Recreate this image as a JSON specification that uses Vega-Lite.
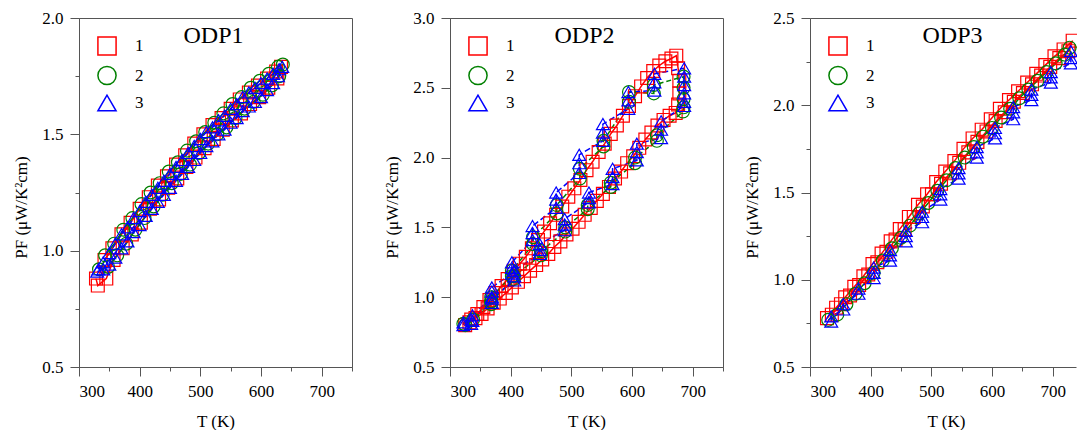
{
"$schema": "https://vega.github.io/schema/vega-lite/v6.json",
"padding": {"left": 12, "top": 8, "right": 0, "bottom": 0},
"spacing": 19,
"config": {
  "font": "Liberation Serif",
  "view": {"stroke": "#555", "strokeWidth": 1},
  "axis": {"grid": false, "labelFont": "Liberation Serif", "labelFontSize": 17, "labelColor": "#000", "titleFont": "Liberation Serif", "titleFontSize": 17, "titleFontWeight": "normal", "titleColor": "#000", "domainColor": "#555", "tickColor": "#555", "labelPadding": 7},
  "legend": {"orient": "top-left", "offset": 18, "padding": 0, "labelFont": "Liberation Serif", "labelFontSize": 17, "labelColor": "#000", "symbolSize": 330, "symbolStrokeWidth": 1.5, "labelOffset": 18, "rowPadding": 3.5}
},
"resolve": {"scale": {"x": "independent", "y": "independent", "color": "independent", "shape": "independent"}, "legend": {"color": "independent", "shape": "independent"}},
"datasets": {
"odp1": [
{"s":"1","T":328,"PF":0.88},{"s":"1","T":331,"PF":0.85},{"s":"1","T":345,"PF":0.88},{"s":"1","T":357,"PF":0.96},{"s":"1","T":372,"PF":1.01},{"s":"1","T":387,"PF":1.07},{"s":"1","T":402,"PF":1.12},{"s":"1","T":417,"PF":1.18},{"s":"1","T":432,"PF":1.22},{"s":"1","T":447,"PF":1.27},{"s":"1","T":462,"PF":1.31},{"s":"1","T":477,"PF":1.36},{"s":"1","T":492,"PF":1.40},{"s":"1","T":507,"PF":1.44},{"s":"1","T":522,"PF":1.48},{"s":"1","T":537,"PF":1.52},{"s":"1","T":552,"PF":1.56},{"s":"1","T":567,"PF":1.59},{"s":"1","T":582,"PF":1.63},{"s":"1","T":597,"PF":1.66},{"s":"1","T":612,"PF":1.70},{"s":"1","T":627,"PF":1.74},{"s":"1","T":633,"PF":1.79},{"s":"1","T":625,"PF":1.77},{"s":"1","T":610,"PF":1.74},{"s":"1","T":595,"PF":1.71},{"s":"1","T":580,"PF":1.68},{"s":"1","T":565,"PF":1.65},{"s":"1","T":550,"PF":1.61},{"s":"1","T":535,"PF":1.57},{"s":"1","T":520,"PF":1.54},{"s":"1","T":505,"PF":1.50},{"s":"1","T":490,"PF":1.46},{"s":"1","T":475,"PF":1.41},{"s":"1","T":460,"PF":1.37},{"s":"1","T":445,"PF":1.32},{"s":"1","T":430,"PF":1.28},{"s":"1","T":415,"PF":1.23},{"s":"1","T":400,"PF":1.18},{"s":"1","T":385,"PF":1.12},{"s":"1","T":370,"PF":1.07},{"s":"1","T":355,"PF":1.01},{"s":"1","T":342,"PF":0.96},
{"s":"2","T":333,"PF":0.92},{"s":"2","T":348,"PF":0.93},{"s":"2","T":363,"PF":0.98},{"s":"2","T":378,"PF":1.03},{"s":"2","T":393,"PF":1.09},{"s":"2","T":408,"PF":1.14},{"s":"2","T":423,"PF":1.19},{"s":"2","T":438,"PF":1.24},{"s":"2","T":453,"PF":1.29},{"s":"2","T":468,"PF":1.33},{"s":"2","T":483,"PF":1.37},{"s":"2","T":498,"PF":1.42},{"s":"2","T":513,"PF":1.46},{"s":"2","T":528,"PF":1.50},{"s":"2","T":543,"PF":1.53},{"s":"2","T":558,"PF":1.57},{"s":"2","T":573,"PF":1.61},{"s":"2","T":588,"PF":1.64},{"s":"2","T":603,"PF":1.67},{"s":"2","T":618,"PF":1.71},{"s":"2","T":630,"PF":1.75},{"s":"2","T":636,"PF":1.80},{"s":"2","T":628,"PF":1.79},{"s":"2","T":613,"PF":1.76},{"s":"2","T":598,"PF":1.73},{"s":"2","T":583,"PF":1.70},{"s":"2","T":568,"PF":1.66},{"s":"2","T":553,"PF":1.63},{"s":"2","T":538,"PF":1.59},{"s":"2","T":523,"PF":1.55},{"s":"2","T":508,"PF":1.51},{"s":"2","T":493,"PF":1.47},{"s":"2","T":478,"PF":1.43},{"s":"2","T":463,"PF":1.38},{"s":"2","T":448,"PF":1.34},{"s":"2","T":433,"PF":1.29},{"s":"2","T":418,"PF":1.25},{"s":"2","T":403,"PF":1.20},{"s":"2","T":388,"PF":1.14},{"s":"2","T":373,"PF":1.09},{"s":"2","T":358,"PF":1.03},{"s":"2","T":343,"PF":0.98},
{"s":"3","T":330,"PF":0.91},{"s":"3","T":340,"PF":0.92},{"s":"3","T":350,"PF":0.94},{"s":"3","T":360,"PF":0.97},{"s":"3","T":370,"PF":1.01},{"s":"3","T":380,"PF":1.04},{"s":"3","T":390,"PF":1.08},{"s":"3","T":400,"PF":1.11},{"s":"3","T":410,"PF":1.15},{"s":"3","T":420,"PF":1.18},{"s":"3","T":430,"PF":1.21},{"s":"3","T":440,"PF":1.24},{"s":"3","T":450,"PF":1.27},{"s":"3","T":460,"PF":1.30},{"s":"3","T":470,"PF":1.33},{"s":"3","T":480,"PF":1.36},{"s":"3","T":490,"PF":1.39},{"s":"3","T":500,"PF":1.42},{"s":"3","T":510,"PF":1.45},{"s":"3","T":520,"PF":1.47},{"s":"3","T":530,"PF":1.50},{"s":"3","T":540,"PF":1.52},{"s":"3","T":550,"PF":1.55},{"s":"3","T":560,"PF":1.57},{"s":"3","T":570,"PF":1.60},{"s":"3","T":580,"PF":1.62},{"s":"3","T":590,"PF":1.64},{"s":"3","T":600,"PF":1.66},{"s":"3","T":610,"PF":1.69},{"s":"3","T":620,"PF":1.72},{"s":"3","T":628,"PF":1.75},{"s":"3","T":635,"PF":1.79},{"s":"3","T":630,"PF":1.78},{"s":"3","T":620,"PF":1.76},{"s":"3","T":610,"PF":1.74},{"s":"3","T":600,"PF":1.72},{"s":"3","T":590,"PF":1.70},{"s":"3","T":580,"PF":1.68},{"s":"3","T":570,"PF":1.66},{"s":"3","T":560,"PF":1.63},{"s":"3","T":550,"PF":1.61},{"s":"3","T":540,"PF":1.58},{"s":"3","T":530,"PF":1.56},{"s":"3","T":520,"PF":1.53},{"s":"3","T":510,"PF":1.51},{"s":"3","T":500,"PF":1.48},{"s":"3","T":490,"PF":1.45},{"s":"3","T":480,"PF":1.42},{"s":"3","T":470,"PF":1.39},{"s":"3","T":460,"PF":1.36},{"s":"3","T":450,"PF":1.33},{"s":"3","T":440,"PF":1.30},{"s":"3","T":430,"PF":1.27},{"s":"3","T":420,"PF":1.24},{"s":"3","T":410,"PF":1.21},{"s":"3","T":400,"PF":1.17},{"s":"3","T":390,"PF":1.14},{"s":"3","T":380,"PF":1.10},{"s":"3","T":370,"PF":1.07},{"s":"3","T":360,"PF":1.03},{"s":"3","T":350,"PF":0.99},{"s":"3","T":340,"PF":0.95},{"s":"3","T":332,"PF":0.92}
],
"odp2": [
{"s":"1","T":325,"PF":0.80},{"s":"1","T":335,"PF":0.84},{"s":"1","T":345,"PF":0.88},{"s":"1","T":355,"PF":0.93},{"s":"1","T":365,"PF":0.98},{"s":"1","T":375,"PF":1.03},{"s":"1","T":385,"PF":1.08},{"s":"1","T":395,"PF":1.13},{"s":"1","T":405,"PF":1.19},{"s":"1","T":415,"PF":1.24},{"s":"1","T":425,"PF":1.29},{"s":"1","T":435,"PF":1.35},{"s":"1","T":445,"PF":1.41},{"s":"1","T":455,"PF":1.47},{"s":"1","T":465,"PF":1.53},{"s":"1","T":475,"PF":1.59},{"s":"1","T":485,"PF":1.65},{"s":"1","T":495,"PF":1.72},{"s":"1","T":505,"PF":1.78},{"s":"1","T":515,"PF":1.84},{"s":"1","T":525,"PF":1.91},{"s":"1","T":535,"PF":1.97},{"s":"1","T":545,"PF":2.04},{"s":"1","T":555,"PF":2.10},{"s":"1","T":565,"PF":2.17},{"s":"1","T":575,"PF":2.23},{"s":"1","T":585,"PF":2.30},{"s":"1","T":595,"PF":2.37},{"s":"1","T":605,"PF":2.44},{"s":"1","T":615,"PF":2.51},{"s":"1","T":625,"PF":2.57},{"s":"1","T":635,"PF":2.62},{"s":"1","T":645,"PF":2.66},{"s":"1","T":655,"PF":2.69},{"s":"1","T":665,"PF":2.71},{"s":"1","T":673,"PF":2.73},{"s":"1","T":676,"PF":2.64},{"s":"1","T":678,"PF":2.55},{"s":"1","T":678,"PF":2.46},{"s":"1","T":676,"PF":2.38},{"s":"1","T":672,"PF":2.32},{"s":"1","T":662,"PF":2.30},{"s":"1","T":652,"PF":2.27},{"s":"1","T":642,"PF":2.23},{"s":"1","T":632,"PF":2.18},{"s":"1","T":622,"PF":2.13},{"s":"1","T":612,"PF":2.07},{"s":"1","T":602,"PF":2.01},{"s":"1","T":592,"PF":1.96},{"s":"1","T":582,"PF":1.90},{"s":"1","T":572,"PF":1.85},{"s":"1","T":562,"PF":1.79},{"s":"1","T":552,"PF":1.74},{"s":"1","T":542,"PF":1.69},{"s":"1","T":532,"PF":1.64},{"s":"1","T":522,"PF":1.59},{"s":"1","T":512,"PF":1.54},{"s":"1","T":502,"PF":1.49},{"s":"1","T":492,"PF":1.45},{"s":"1","T":482,"PF":1.40},{"s":"1","T":472,"PF":1.36},{"s":"1","T":462,"PF":1.31},{"s":"1","T":452,"PF":1.27},{"s":"1","T":442,"PF":1.23},{"s":"1","T":432,"PF":1.19},{"s":"1","T":422,"PF":1.15},{"s":"1","T":412,"PF":1.11},{"s":"1","T":402,"PF":1.07},{"s":"1","T":392,"PF":1.03},{"s":"1","T":382,"PF":0.99},{"s":"1","T":372,"PF":0.96},{"s":"1","T":362,"PF":0.92},{"s":"1","T":352,"PF":0.88},{"s":"1","T":342,"PF":0.85},{"s":"1","T":332,"PF":0.82},
{"s":"2","T":322,"PF":0.81},{"s":"2","T":338,"PF":0.84},{"s":"2","T":368,"PF":0.97},{"s":"2","T":368,"PF":1.00},{"s":"2","T":402,"PF":1.15},{"s":"2","T":402,"PF":1.19},{"s":"2","T":437,"PF":1.38},{"s":"2","T":437,"PF":1.43},{"s":"2","T":476,"PF":1.60},{"s":"2","T":476,"PF":1.66},{"s":"2","T":514,"PF":1.85},{"s":"2","T":514,"PF":1.92},{"s":"2","T":553,"PF":2.08},{"s":"2","T":553,"PF":2.12},{"s":"2","T":595,"PF":2.40},{"s":"2","T":595,"PF":2.47},{"s":"2","T":636,"PF":2.46},{"s":"2","T":636,"PF":2.52},{"s":"2","T":685,"PF":2.58},{"s":"2","T":685,"PF":2.50},{"s":"2","T":685,"PF":2.42},{"s":"2","T":685,"PF":2.36},{"s":"2","T":684,"PF":2.33},{"s":"2","T":641,"PF":2.16},{"s":"2","T":641,"PF":2.12},{"s":"2","T":605,"PF":2.00},{"s":"2","T":605,"PF":1.96},{"s":"2","T":565,"PF":1.82},{"s":"2","T":565,"PF":1.79},{"s":"2","T":527,"PF":1.66},{"s":"2","T":527,"PF":1.63},{"s":"2","T":490,"PF":1.50},{"s":"2","T":490,"PF":1.47},{"s":"2","T":450,"PF":1.33},{"s":"2","T":450,"PF":1.30},{"s":"2","T":405,"PF":1.15},{"s":"2","T":405,"PF":1.13},{"s":"2","T":368,"PF":0.97},{"s":"2","T":368,"PF":0.95},{"s":"2","T":325,"PF":0.80},
{"s":"3","T":322,"PF":0.80},{"s":"3","T":322,"PF":0.82},{"s":"3","T":337,"PF":0.83},{"s":"3","T":337,"PF":0.87},{"s":"3","T":369,"PF":1.00},{"s":"3","T":369,"PF":1.04},{"s":"3","T":369,"PF":1.07},{"s":"3","T":402,"PF":1.17},{"s":"3","T":402,"PF":1.21},{"s":"3","T":402,"PF":1.25},{"s":"3","T":436,"PF":1.41},{"s":"3","T":436,"PF":1.46},{"s":"3","T":436,"PF":1.51},{"s":"3","T":475,"PF":1.64},{"s":"3","T":475,"PF":1.70},{"s":"3","T":475,"PF":1.75},{"s":"3","T":513,"PF":1.89},{"s":"3","T":513,"PF":1.96},{"s":"3","T":513,"PF":2.02},{"s":"3","T":552,"PF":2.12},{"s":"3","T":552,"PF":2.18},{"s":"3","T":552,"PF":2.24},{"s":"3","T":594,"PF":2.35},{"s":"3","T":594,"PF":2.41},{"s":"3","T":594,"PF":2.47},{"s":"3","T":637,"PF":2.48},{"s":"3","T":637,"PF":2.54},{"s":"3","T":637,"PF":2.60},{"s":"3","T":686,"PF":2.64},{"s":"3","T":686,"PF":2.58},{"s":"3","T":686,"PF":2.52},{"s":"3","T":686,"PF":2.46},{"s":"3","T":686,"PF":2.40},{"s":"3","T":686,"PF":2.37},{"s":"3","T":648,"PF":2.26},{"s":"3","T":648,"PF":2.20},{"s":"3","T":648,"PF":2.14},{"s":"3","T":608,"PF":2.10},{"s":"3","T":608,"PF":2.04},{"s":"3","T":608,"PF":1.98},{"s":"3","T":568,"PF":1.92},{"s":"3","T":568,"PF":1.86},{"s":"3","T":568,"PF":1.81},{"s":"3","T":529,"PF":1.75},{"s":"3","T":529,"PF":1.71},{"s":"3","T":529,"PF":1.68},{"s":"3","T":489,"PF":1.56},{"s":"3","T":489,"PF":1.52},{"s":"3","T":489,"PF":1.48},{"s":"3","T":448,"PF":1.38},{"s":"3","T":448,"PF":1.34},{"s":"3","T":448,"PF":1.31},{"s":"3","T":406,"PF":1.19},{"s":"3","T":406,"PF":1.15},{"s":"3","T":406,"PF":1.12},{"s":"3","T":369,"PF":0.99},{"s":"3","T":369,"PF":0.96},{"s":"3","T":335,"PF":0.84},{"s":"3","T":335,"PF":0.81}
],
"odp3": [
{"s":"1","T":328,"PF":0.78},{"s":"1","T":343,"PF":0.84},{"s":"1","T":358,"PF":0.90},{"s":"1","T":373,"PF":0.96},{"s":"1","T":388,"PF":1.02},{"s":"1","T":403,"PF":1.09},{"s":"1","T":418,"PF":1.15},{"s":"1","T":433,"PF":1.22},{"s":"1","T":448,"PF":1.29},{"s":"1","T":463,"PF":1.36},{"s":"1","T":478,"PF":1.43},{"s":"1","T":493,"PF":1.49},{"s":"1","T":508,"PF":1.56},{"s":"1","T":523,"PF":1.62},{"s":"1","T":538,"PF":1.68},{"s":"1","T":553,"PF":1.75},{"s":"1","T":568,"PF":1.81},{"s":"1","T":583,"PF":1.86},{"s":"1","T":598,"PF":1.92},{"s":"1","T":613,"PF":1.98},{"s":"1","T":628,"PF":2.03},{"s":"1","T":643,"PF":2.08},{"s":"1","T":658,"PF":2.13},{"s":"1","T":673,"PF":2.18},{"s":"1","T":688,"PF":2.23},{"s":"1","T":703,"PF":2.28},{"s":"1","T":718,"PF":2.32},{"s":"1","T":733,"PF":2.37},{"s":"1","T":726,"PF":2.31},{"s":"1","T":711,"PF":2.27},{"s":"1","T":696,"PF":2.22},{"s":"1","T":681,"PF":2.17},{"s":"1","T":666,"PF":2.12},{"s":"1","T":651,"PF":2.07},{"s":"1","T":636,"PF":2.02},{"s":"1","T":621,"PF":1.96},{"s":"1","T":606,"PF":1.91},{"s":"1","T":591,"PF":1.85},{"s":"1","T":576,"PF":1.79},{"s":"1","T":561,"PF":1.73},{"s":"1","T":546,"PF":1.67},{"s":"1","T":531,"PF":1.61},{"s":"1","T":516,"PF":1.55},{"s":"1","T":501,"PF":1.49},{"s":"1","T":486,"PF":1.42},{"s":"1","T":471,"PF":1.36},{"s":"1","T":456,"PF":1.29},{"s":"1","T":441,"PF":1.23},{"s":"1","T":426,"PF":1.16},{"s":"1","T":411,"PF":1.10},{"s":"1","T":396,"PF":1.03},{"s":"1","T":381,"PF":0.97},{"s":"1","T":366,"PF":0.91},{"s":"1","T":351,"PF":0.86},{"s":"1","T":336,"PF":0.80},
{"s":"2","T":330,"PF":0.77},{"s":"2","T":345,"PF":0.80},{"s":"2","T":360,"PF":0.86},{"s":"2","T":375,"PF":0.92},{"s":"2","T":390,"PF":0.98},{"s":"2","T":405,"PF":1.04},{"s":"2","T":420,"PF":1.11},{"s":"2","T":435,"PF":1.18},{"s":"2","T":450,"PF":1.24},{"s":"2","T":465,"PF":1.31},{"s":"2","T":480,"PF":1.38},{"s":"2","T":495,"PF":1.44},{"s":"2","T":510,"PF":1.51},{"s":"2","T":525,"PF":1.57},{"s":"2","T":540,"PF":1.64},{"s":"2","T":555,"PF":1.70},{"s":"2","T":570,"PF":1.76},{"s":"2","T":585,"PF":1.82},{"s":"2","T":600,"PF":1.87},{"s":"2","T":615,"PF":1.93},{"s":"2","T":630,"PF":1.98},{"s":"2","T":645,"PF":2.04},{"s":"2","T":660,"PF":2.09},{"s":"2","T":675,"PF":2.14},{"s":"2","T":690,"PF":2.19},{"s":"2","T":705,"PF":2.24},{"s":"2","T":720,"PF":2.29},{"s":"2","T":728,"PF":2.33},
{"s":"3","T":335,"PF":0.76},{"s":"3","T":335,"PF":0.79},{"s":"3","T":355,"PF":0.83},{"s":"3","T":355,"PF":0.86},{"s":"3","T":380,"PF":0.92},{"s":"3","T":380,"PF":0.95},{"s":"3","T":405,"PF":1.01},{"s":"3","T":405,"PF":1.04},{"s":"3","T":405,"PF":1.07},{"s":"3","T":432,"PF":1.11},{"s":"3","T":432,"PF":1.14},{"s":"3","T":432,"PF":1.17},{"s":"3","T":458,"PF":1.22},{"s":"3","T":458,"PF":1.25},{"s":"3","T":458,"PF":1.28},{"s":"3","T":485,"PF":1.33},{"s":"3","T":485,"PF":1.36},{"s":"3","T":485,"PF":1.39},{"s":"3","T":515,"PF":1.46},{"s":"3","T":515,"PF":1.49},{"s":"3","T":515,"PF":1.52},{"s":"3","T":545,"PF":1.58},{"s":"3","T":545,"PF":1.61},{"s":"3","T":545,"PF":1.64},{"s":"3","T":575,"PF":1.70},{"s":"3","T":575,"PF":1.73},{"s":"3","T":575,"PF":1.76},{"s":"3","T":605,"PF":1.81},{"s":"3","T":605,"PF":1.84},{"s":"3","T":605,"PF":1.87},{"s":"3","T":635,"PF":1.92},{"s":"3","T":635,"PF":1.96},{"s":"3","T":635,"PF":1.99},{"s":"3","T":665,"PF":2.03},{"s":"3","T":665,"PF":2.06},{"s":"3","T":665,"PF":2.09},{"s":"3","T":697,"PF":2.13},{"s":"3","T":697,"PF":2.16},{"s":"3","T":697,"PF":2.19},{"s":"3","T":730,"PF":2.24},{"s":"3","T":730,"PF":2.27},{"s":"3","T":730,"PF":2.31}
]
},
"hconcat": [
{
  "width": 273, "height": 349,
  "data": {"name": "odp1"},
  "resolve": {"axis": {"x": "independent", "y": "independent"}},
  "layer": [
    {"transform": [{"filter": "datum.s !== '3'"}],
     "mark": {"type": "line", "strokeWidth": 1.5},
     "encoding": {
       "x": {"field": "T", "type": "quantitative", "scale": {"domain": [300, 750], "nice": false, "zero": false}, "axis": {"values": [300,350,400,450,500,550,600,650,700,750], "labelExpr": "datum.value % 100 === 0 ? datum.label : ''", "tickSize": {"condition": {"test": "datum.value % 100 === 0", "value": 9}, "value": 4}, "title": "T (K)", "titlePadding": 14}},
       "y": {"field": "PF", "type": "quantitative", "scale": {"domain": [0.5, 2.0], "nice": false, "zero": false}, "axis": {"values": [0.5,0.75,1,1.25,1.5,1.75,2], "labelExpr": "datum.value % 0.5 === 0 ? format(datum.value, '.1f') : ''", "tickSize": {"condition": {"test": "datum.value % 0.5 === 0", "value": 9}, "value": 4}, "title": "PF (μW/K²cm)", "titlePadding": 11, "titleY": 189}},
       "color": {"field": "s", "type": "nominal", "scale": {"domain": ["1","2","3"], "range": ["#ff0000","#008000","#0000ff"]}, "legend": {"title": null}},
       "order": {"value": null}
     }},
    {"transform": [{"filter": "datum.s === '3'"}],
     "mark": {"type": "line", "strokeWidth": 1.5, "color": "#0000ff", "strokeDash": [6,3]},
     "encoding": {
       "x": {"field": "T", "type": "quantitative", "axis": null},
       "y": {"field": "PF", "type": "quantitative", "axis": null},
       "order": {"value": null}
     }},
    {"mark": {"type": "point", "filled": false, "strokeWidth": 1.2, "opacity": 1, "size": 165},
     "encoding": {
       "x": {"field": "T", "type": "quantitative", "axis": {"orient": "top", "domain": false, "ticks": false, "labels": false, "title": "ODP1", "titleFontSize": 24, "titleBaseline": "alphabetic", "titleY": 24, "titleX": 134}},
       "y": {"field": "PF", "type": "quantitative", "axis": {"orient": "right", "domain": false, "ticks": false, "labels": false, "title": "|", "titleOpacity": 0, "titleFontSize": 11, "titlePadding": 0}},
       "color": {"field": "s", "type": "nominal", "legend": {"title": null}},
       "shape": {"field": "s", "type": "nominal", "scale": {"domain": ["1","2","3"], "range": ["square","circle","triangle-up"]}, "legend": {"title": null}}
     }}
  ]
},
{
  "width": 273, "height": 349,
  "data": {"name": "odp2"},
  "resolve": {"axis": {"x": "independent"}},
  "layer": [
    {"transform": [{"filter": "datum.s === '1'"}],
     "mark": {"type": "line", "strokeWidth": 1.5},
     "encoding": {
       "x": {"field": "T", "type": "quantitative", "scale": {"domain": [300, 750], "nice": false, "zero": false}, "axis": {"values": [300,350,400,450,500,550,600,650,700,750], "labelExpr": "datum.value % 100 === 0 ? datum.label : ''", "tickSize": {"condition": {"test": "datum.value % 100 === 0", "value": 9}, "value": 4}, "title": "T (K)", "titlePadding": 14}},
       "y": {"field": "PF", "type": "quantitative", "scale": {"domain": [0.5, 3.0], "nice": false, "zero": false}, "axis": {"values": [0.5,0.75,1,1.25,1.5,1.75,2,2.25,2.5,2.75,3], "labelExpr": "datum.value % 0.5 === 0 ? format(datum.value, '.1f') : ''", "tickSize": {"condition": {"test": "datum.value % 0.5 === 0", "value": 9}, "value": 4}, "title": "PF (μW/K²cm)", "titlePadding": 11, "titleY": 189}},
       "color": {"field": "s", "type": "nominal", "scale": {"domain": ["1","2","3"], "range": ["#ff0000","#008000","#0000ff"]}, "legend": {"title": null}},
       "order": {"value": null}
     }},
    {"transform": [{"filter": "datum.s === '2'"}],
     "mark": {"type": "line", "strokeWidth": 1.5, "color": "#008000", "strokeDash": [5,3]},
     "encoding": {
       "x": {"field": "T", "type": "quantitative", "axis": null},
       "y": {"field": "PF", "type": "quantitative"},
       "order": {"value": null}
     }},
    {"transform": [{"filter": "datum.s === '3'"}],
     "mark": {"type": "line", "strokeWidth": 1.5, "color": "#0000ff", "strokeDash": [6,3]},
     "encoding": {
       "x": {"field": "T", "type": "quantitative", "axis": null},
       "y": {"field": "PF", "type": "quantitative"},
       "order": {"value": null}
     }},
    {"mark": {"type": "point", "filled": false, "strokeWidth": 1.2, "opacity": 1, "size": 165},
     "encoding": {
       "x": {"field": "T", "type": "quantitative", "axis": {"orient": "top", "domain": false, "ticks": false, "labels": false, "title": "ODP2", "titleFontSize": 24, "titleBaseline": "alphabetic", "titleY": 24, "titleX": 134}},
       "y": {"field": "PF", "type": "quantitative"},
       "color": {"field": "s", "type": "nominal", "legend": {"title": null}},
       "shape": {"field": "s", "type": "nominal", "scale": {"domain": ["1","2","3"], "range": ["square","circle","triangle-up"]}, "legend": {"title": null}}
     }}
  ]
},
{
  "width": 266, "height": 349,
  "data": {"name": "odp3"},
  "view": {"stroke": null},
  "resolve": {"axis": {"x": "independent"}},
  "layer": [
    {"transform": [{"filter": "datum.s !== '3'"}],
     "mark": {"type": "line", "strokeWidth": 1.5},
     "encoding": {
       "x": {"field": "T", "type": "quantitative", "scale": {"domain": [300, 738.5], "nice": false, "zero": false}, "axis": {"values": [300,350,400,450,500,550,600,650,700], "labelExpr": "datum.value % 100 === 0 ? datum.label : ''", "tickSize": {"condition": {"test": "datum.value % 100 === 0", "value": 9}, "value": 4}, "title": "T (K)", "titlePadding": 14, "titleX": 136}},
       "y": {"field": "PF", "type": "quantitative", "scale": {"domain": [0.5, 2.5], "nice": false, "zero": false}, "axis": {"values": [0.5,0.75,1,1.25,1.5,1.75,2,2.25,2.5], "labelExpr": "datum.value % 0.5 === 0 ? format(datum.value, '.1f') : ''", "tickSize": {"condition": {"test": "datum.value % 0.5 === 0", "value": 9}, "value": 4}, "title": "PF (μW/K²cm)", "titlePadding": 11, "titleY": 189}},
       "color": {"field": "s", "type": "nominal", "scale": {"domain": ["1","2","3"], "range": ["#ff0000","#008000","#0000ff"]}, "legend": {"title": null}},
       "order": {"value": null}
     }},
    {"transform": [{"filter": "datum.s === '3'"}],
     "mark": {"type": "line", "strokeWidth": 1.5, "color": "#0000ff", "strokeDash": [6,3]},
     "encoding": {
       "x": {"field": "T", "type": "quantitative", "axis": null},
       "y": {"field": "PF", "type": "quantitative"},
       "order": {"value": null}
     }},
    {"mark": {"type": "point", "filled": false, "strokeWidth": 1.2, "opacity": 1, "size": 165},
     "encoding": {
       "x": {"field": "T", "type": "quantitative", "axis": {"orient": "top", "domain": true, "ticks": false, "labels": false, "title": "ODP3", "titleFontSize": 24, "titleBaseline": "alphabetic", "titleY": 24, "titleX": 142}},
       "y": {"field": "PF", "type": "quantitative"},
       "color": {"field": "s", "type": "nominal", "legend": {"title": null}},
       "shape": {"field": "s", "type": "nominal", "scale": {"domain": ["1","2","3"], "range": ["square","circle","triangle-up"]}, "legend": {"title": null}}
     }}
  ]
}
]
}
